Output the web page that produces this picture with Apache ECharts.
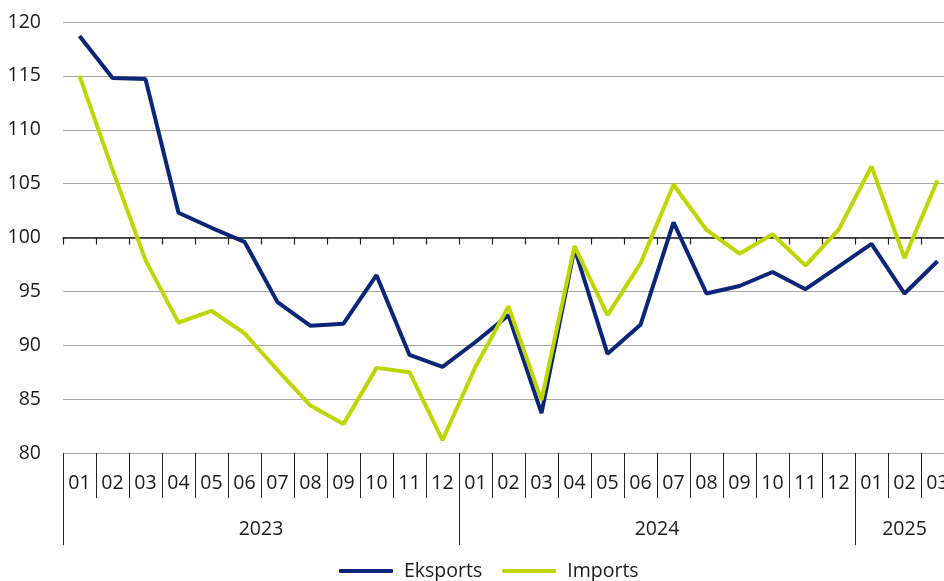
<!DOCTYPE html>
<html>
<head>
<meta charset="utf-8">
<script src="https://cdn.jsdelivr.net/npm/echarts@6/dist/echarts.min.js"></script>
<style>
  html, body { margin: 0; padding: 0; background: #fff; }
  #chart { width: 944px; height: 581px; }
</style>
</head>
<body>
<div id="chart"></div>
<script>
// months of each year shown on the axis
var years = ["2023", "2024", "2025"];
var yearMonths = [12, 12, 3];
var months = [
  "01", "02", "03", "04", "05", "06", "07", "08", "09", "10", "11", "12",
  "01", "02", "03", "04", "05", "06", "07", "08", "09", "10", "11", "12",
  "01", "02", "03"
];
var eksports = [
  118.7, 114.8, 114.7, 102.3, 100.9, 99.6, 94.0, 91.8, 92.0, 96.5, 89.1, 88.0,
  90.3, 92.8, 83.7, 99.0, 89.2, 91.9, 101.4, 94.8, 95.5, 96.8, 95.2, 97.3,
  99.4, 94.8, 97.8
];
var imports = [
  115.0, 106.3, 97.9, 92.1, 93.2, 91.1, 87.7, 84.4, 82.7, 87.9, 87.5, 81.2,
  88.0, 93.6, 84.9, 99.2, 92.8, 97.6, 104.9, 100.7, 98.5, 100.3, 97.4, 100.7,
  106.6, 98.1, 105.3
];
var yMin = 80, yMax = 120, yStep = 5, baseLine = 100;

var font = "Open Sans";
var txt = "#1a1a1a";
var gridTop = 22, gridH = 431, gridLeft = 63, gridW = 891;

// year boundaries and centres on a 0..n value scale
var yearEdges = [0], yearCentres = [];
var acc = 0;
yearMonths.forEach(function (n) {
  yearCentres.push(acc + n / 2);
  acc += n;
  yearEdges.push(acc);
});

var chart = echarts.init(document.getElementById("chart"));
chart.setOption({
  animation: false,
  textStyle: { fontFamily: font },
  grid: {
    left: gridLeft, top: gridTop, width: gridW, height: gridH,
    containLabel: false, outerBoundsMode: "none"
  },
  legend: {
    data: ["Eksports", "Imports"],
    top: 556,
    left: 334,
    icon: "roundRect",
    itemWidth: 54,
    itemHeight: 4,
    itemGap: 20,
    textStyle: { fontSize: 19.5, color: txt, fontFamily: font, padding: [0, 0, 0, 6] }
  },
  yAxis: {
    type: "value",
    min: yMin,
    max: yMax,
    interval: yStep,
    axisLine: { show: false },
    axisTick: { show: false },
    axisLabel: { fontSize: 19.5, color: txt, margin: 22, fontFamily: font },
    splitLine: { lineStyle: { color: "#a6a6a6", width: 1 } }
  },
  xAxis: [
    {
      // axis line crossing at 100
      type: "category",
      data: months,
      position: "bottom",
      offset: -gridH * (baseLine - yMin) / (yMax - yMin),
      axisLine: { show: true, lineStyle: { color: "#222", width: 1.5 } },
      axisTick: { show: true, interval: 0, length: 7, lineStyle: { color: "#222", width: 1.2 } },
      axisLabel: { show: false }
    },
    {
      type: "category",
      data: months,
      position: "bottom",
      axisLine: { show: false },
      axisTick: { show: true, interval: 0, length: 45, lineStyle: { color: "#222", width: 1 } },
      axisLabel: { interval: 0, fontSize: 19.5, color: txt, margin: 20, fontFamily: font }
    },
    {
      type: "value",
      min: 0,
      max: months.length,
      position: "bottom",
      axisLine: { show: false },
      splitLine: { show: false },
      axisTick: { customValues: yearEdges, length: 92, lineStyle: { color: "#222", width: 1 } },
      axisLabel: {
        customValues: yearCentres,
        margin: 66,
        fontSize: 19.5,
        color: txt,
        fontFamily: font,
        formatter: function (v) {
          return years[yearCentres.indexOf(v)];
        }
      }
    }
  ],
  series: [
    {
      name: "Eksports",
      type: "line",
      xAxisIndex: 1,
      data: eksports,
      symbol: "none",
      lineStyle: { color: "#0c2577", width: 4 },
      itemStyle: { color: "#0c2577" }
    },
    {
      name: "Imports",
      type: "line",
      xAxisIndex: 1,
      data: imports,
      symbol: "none",
      lineStyle: { color: "#bed600", width: 4 },
      itemStyle: { color: "#bed600" }
    }
  ]
});
</script>
</body>
</html>
